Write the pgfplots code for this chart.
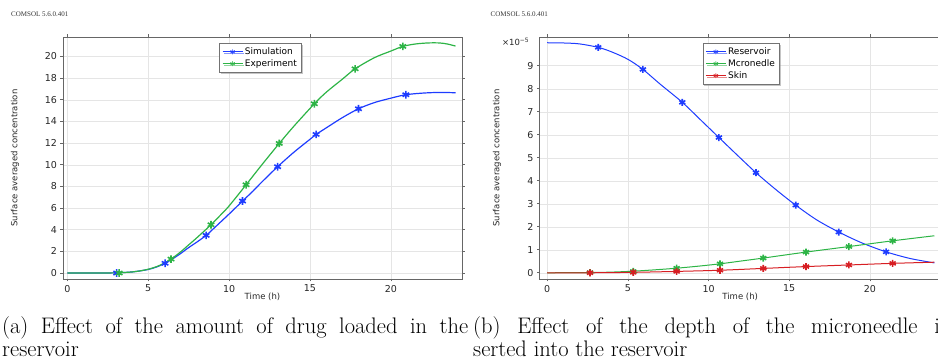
\documentclass[border=0pt]{standalone}
\usepackage{fontspec}
\usepackage{pgfplots}
\pgfplotsset{compat=1.18}
\usetikzlibrary{shadows}
\newfontfamily\dejavu{DejaVu Sans}
\newfontfamily\libserif{Liberation Serif}
\definecolor{cblue}{RGB}{30,60,255}
\definecolor{cgreen}{RGB}{45,180,70}
\definecolor{cred}{RGB}{215,30,35}
\pgfplotsset{
  comsol/.style={
    scale only axis,
    grid=major,
    grid style={black!10, line width=0.5pt},
    axis line style={black!60, line width=0.7pt},
    tick style={black!60, line width=0.6pt},
    tick align=outside,
    major tick length=2.5pt,
    ticklabel style={font=\dejavu\fontsize{9.5}{10}\selectfont, text=black!85},
    /pgf/number format/assume math mode=true,
    xlabel={Time (h)},
    ylabel={Surface averaged concentration},
    label style={font=\dejavu\fontsize{8.5}{10}\selectfont, text=black!85},
    xlabel style={at={(axis description cs:0.5,0)}, anchor=center, yshift=-17.5pt},
    legend cell align=left,
    legend style={font=\dejavu\fontsize{9}{10}\selectfont, draw=black!55, line width=0.5pt, fill=white,
      drop shadow={shadow xshift=1.5pt, shadow yshift=-1.5pt, fill=black!45},
      anchor=north west, inner sep=2.5pt, nodes={inner sep=1.8pt}, row sep=0pt},
    legend image code/.code={\draw[mark repeat=2,mark phase=2,#1] plot coordinates {(0pt,0pt)(10pt,0pt)(20pt,0pt)};},
    xtick={0,5,10,15,20},
  },
  curve/.style={line width=1.2pt, smooth, tension=0.5, mark=none, forget plot},
  mk/.style={only marks, mark=asterisk, mark size=3.8pt, mark options={line width=1.6pt, solid}, forget plot},
  lg/.style={line width=0.9pt, mark=asterisk, mark size=2.5pt, mark options={line width=0.7pt, solid}},
}
\begin{document}
\begin{tikzpicture}[x=1pt,y=1pt]
% ---------------- left ----------------
\node[anchor=base west, inner sep=0, font=\libserif\fontsize{7}{8}\selectfont, text=black!80] at (11,346) {COMSOL 5.6.0.401};
\begin{axis}[comsol,
  at={(63pt,84pt)}, anchor=south west,
  width=399pt, height=242pt,
  xmin=-0.27, xmax=24.4, ymin=-0.55, ymax=21.8,
  ytick={0,2,...,20},
  ylabel style={at={(axis description cs:-0.1203,0.5)}, anchor=center},
  legend style={at={(0.392,0.975)}},
]
\addplot[curve, cblue] coordinates {(0,0)(1,0)(2,0)(3,0.02)(3.5,0.05)(4,0.1)(4.5,0.2)(5,0.33)(5.5,0.55)(6.04,0.9)(6.5,1.3)(7,1.8)(7.5,2.35)(8,2.85)(8.58,3.48)(9,4.05)(10,5.45)(10.83,6.65)(11.5,7.6)(12,8.37)(13,9.82)(14,11.15)(15,12.35)(15.38,12.8)(16,13.4)(17,14.35)(18,15.17)(19,15.75)(20,16.15)(20.93,16.47)(22,16.62)(23,16.68)(24,16.65)};
\addplot[curve, cgreen] coordinates {(0,0)(1,0)(2,0)(3,0.02)(3.5,0.05)(4,0.1)(4.5,0.2)(5,0.35)(5.5,0.58)(6,0.92)(6.41,1.29)(7,1.95)(7.5,2.6)(8,3.25)(8.88,4.46)(9.5,5.4)(10,6.2)(11.05,8.15)(12,9.95)(13.1,11.97)(14,13.55)(15.27,15.63)(16,16.69)(17,17.9)(17.79,18.86)(19,19.9)(20,20.5)(20.74,20.93)(21.5,21.15)(22.3,21.25)(23,21.25)(23.5,21.15)(24,20.96)};
\addplot[mk, cblue] coordinates {(3.05,0)(6.04,0.9)(8.58,3.48)(10.83,6.65)(13.0,9.82)(15.38,12.8)(18.0,15.17)(20.93,16.47)};
\addplot[mk, cgreen] coordinates {(3.2,0)(6.41,1.29)(8.88,4.46)(11.05,8.15)(13.1,11.97)(15.27,15.63)(17.79,18.86)(20.74,20.93)};
\addlegendimage{lg, cblue}
\addlegendentry{Simulation}
\addlegendimage{lg, cgreen}
\addlegendentry{Experiment}
\end{axis}
% ---------------- right ----------------
\node[anchor=base west, inner sep=0, font=\libserif\fontsize{7}{8}\selectfont, text=black!80] at (490.5,346) {COMSOL 5.6.0.401};
\begin{axis}[comsol,
  at={(539.5pt,84pt)}, anchor=south west,
  width=401.4pt, height=242pt,
  xmin=-0.48, xmax=24.4, ymin=-0.27, ymax=10.25,
  ytick={0,1,...,9},
  ylabel style={at={(axis description cs:-0.1059,0.5)}, anchor=center},
  legend style={at={(0.4065,0.975)}},
]
\addplot[curve, cblue, line width=1.0pt] coordinates {(0,10)(1,9.99)(2,9.95)(3.16,9.8)(4,9.6)(5,9.28)(5.93,8.84)(7,8.2)(8.37,7.41)(9.5,6.65)(10.64,5.88)(11.8,5.1)(12.94,4.35)(14.2,3.6)(15.4,2.94)(16.7,2.3)(18.07,1.77)(19.5,1.3)(21.0,0.91)(22.5,0.62)(24,0.43)};
\addplot[curve, cgreen, line width=1.0pt] coordinates {(0,0)(2.65,0.01)(4,0.03)(5.33,0.07)(6.7,0.13)(8.02,0.2)(9.4,0.29)(10.71,0.39)(12,0.51)(13.39,0.64)(16.04,0.9)(18.7,1.14)(21.41,1.39)(24,1.61)};
\addplot[curve, cred, line width=1.0pt] coordinates {(0,0)(2.65,0)(5.33,0.02)(8.02,0.06)(10.71,0.11)(13.39,0.19)(16.04,0.27)(18.7,0.34)(21.41,0.41)(24,0.46)};
\addplot[mk, cblue, mark size=3.5pt] coordinates {(3.16,9.8)(5.93,8.84)(8.37,7.41)(10.64,5.88)(12.94,4.35)(15.4,2.94)(18.07,1.77)(21.0,0.91)};
\addplot[mk, cgreen, mark size=3.5pt] coordinates {(2.65,0.01)(5.33,0.06)(8.02,0.2)(10.71,0.39)(13.39,0.64)(16.04,0.9)(18.7,1.14)(21.41,1.39)};
\addplot[mk, cred, mark size=3.5pt] coordinates {(2.65,0)(5.33,0.02)(8.02,0.06)(10.71,0.11)(13.39,0.19)(16.04,0.27)(18.7,0.34)(21.41,0.41)};
\addlegendimage{lg, cblue}
\addlegendentry{Reservoir}
\addlegendimage{lg, cgreen}
\addlegendentry{Mcronedle}
\addlegendimage{lg, cred}
\addlegendentry{Skin}
\end{axis}
\node[anchor=east, inner sep=0, font=\dejavu\fontsize{8.5}{10}\selectfont, text=black!85] at (529,321) {×10\raisebox{0.7ex}{\fontsize{6}{7}\selectfont −5}};
% ---------------- captions ----------------
\node[anchor=base west, inner sep=0, text width=466pt, align=justify, font=\fontsize{22.5}{23.3}\selectfont] at (2,29.3)
  {(a) Effect of the amount of drug loaded in the\linebreak reservoir};
\node[anchor=base west, inner sep=0, text width=485pt, align=justify, font=\fontsize{22.5}{23.3}\selectfont] at (473,29.3)
  {(b) Effect of the depth of the microneedle in-\linebreak serted into the reservoir};
\pgfresetboundingbox
\useasboundingbox (0,0) rectangle (938,363);
\end{tikzpicture}
\end{document}
